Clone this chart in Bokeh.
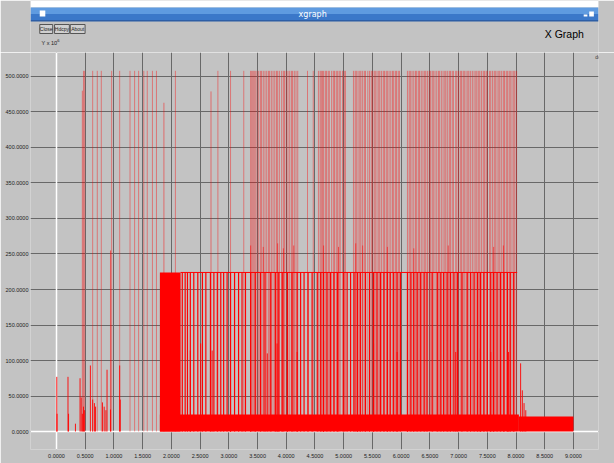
from bokeh.plotting import figure
from bokeh.models import Range1d, FixedTicker, Span, Label, PrintfTickFormatter
from bokeh.layouts import column
from bokeh.embed import file_html
from bokeh.resources import INLINE
from bokeh.core.properties import value

# ---------------- data (time in s, delay in 1e-6 s) ----------------
x_ticks = [0.0, 0.5, 1.0, 1.5, 2.0, 2.5, 3.0, 3.5, 4.0, 4.5, 5.0, 5.5, 6.0, 6.5,
           7.0, 7.5, 8.0, 8.5, 9.0]
y_ticks = [0, 50, 100, 150, 200, 250, 300, 350, 400, 450, 500]

# tall spikes (reach ~508)
tall_t = [0.47, 0.49, 0.63, 0.71, 0.78, 0.96, 1.10, 1.28, 1.36, 1.43, 1.52, 1.58,
          1.67, 1.74, 2.07, 2.81, 3.03, 3.26,
          3.38, 3.40, 3.42, 3.44, 3.46, 3.49, 3.52, 3.55, 3.57, 3.60, 3.63, 3.66,
          3.69, 3.71, 3.74, 3.77, 3.80, 3.83, 3.85, 3.88, 3.92, 3.95, 3.97, 4.00,
          4.03, 4.06, 4.09, 4.11, 4.14, 4.17, 4.20, 4.37, 4.47,
          4.56, 4.59, 4.61, 4.63, 4.65, 4.68, 4.70, 4.73, 4.75, 4.79, 4.82, 4.84,
          4.87, 4.89, 4.92, 4.94, 4.98, 5.01, 5.03,
          5.17, 5.20, 5.22, 5.25, 5.28, 5.30, 5.33, 5.36, 5.38, 5.42, 5.45, 5.48,
          5.50, 5.53, 5.55, 5.58, 5.61, 5.63, 5.66, 5.69, 5.71, 5.74, 5.76, 5.79,
          5.82, 5.85, 5.87, 5.90, 5.92, 5.95, 5.97,
          6.11, 6.14, 6.16, 6.19, 6.22, 6.25, 6.27, 6.30, 6.32, 6.35, 6.38, 6.41,
          6.43, 6.46, 6.49, 6.51, 6.54, 6.56, 6.59, 6.62, 6.65, 6.67, 6.70, 6.73,
          6.76, 6.78, 6.81, 6.84, 6.86, 6.89, 6.91, 6.95, 6.97, 7.00, 7.03, 7.05,
          7.08, 7.10, 7.13, 7.16, 7.18, 7.21, 7.24, 7.27, 7.30, 7.32, 7.35, 7.37,
          7.40, 7.43, 7.45, 7.48, 7.50, 7.54, 7.56, 7.59, 7.62, 7.64, 7.67, 7.70,
          7.72, 7.75, 7.78, 7.80, 7.83, 7.85, 7.88, 7.90, 7.93, 7.96, 7.98, 8.01]
tall_h = 508

# near-tall spikes
near_t = [0.45, 1.87, 2.69]
near_h = [480, 463, 479]

# spikes just above the plateau
high_t = [0.94, 3.38, 3.60, 3.85, 3.95, 4.13, 4.65, 4.91, 5.21, 5.33, 5.76, 6.22,
          6.82, 7.61, 7.78]
high_h = [255, 262, 260, 265, 258, 262, 262, 260, 265, 262, 260, 258, 262, 260, 262]

# spikes to the plateau level (~224)
plat_t = [2.19, 2.24, 2.28, 2.33, 2.39, 2.46, 2.54, 2.60, 2.68, 2.74, 2.80, 2.86,
          2.91, 2.97, 3.03, 3.10, 3.17, 3.23, 3.29, 3.38, 3.46, 3.55, 3.63, 3.73,
          3.81, 3.87, 3.93, 4.02, 4.10, 4.19, 4.25, 4.31, 4.38, 4.45, 4.54, 4.60,
          4.65, 4.71, 4.77, 4.83, 4.89, 5.00, 5.06, 5.12, 5.18, 5.24, 5.29, 5.38,
          5.45, 5.52, 5.58, 5.64, 5.70, 5.76, 5.81, 5.87, 5.93, 5.99, 6.11, 6.17,
          6.22, 6.28, 6.34, 6.40, 6.45, 6.54, 6.63, 6.69, 6.74, 6.80, 6.86, 6.92,
          6.98, 7.06, 7.15, 7.21, 7.27, 7.33, 7.38, 7.44, 7.50, 7.56, 7.61, 7.67,
          7.73, 7.79, 7.85, 7.90, 7.96]
plat_level = 224
plat_block = (1.80, 2.16)
plat_line = (2.16, 8.02)

# medium spikes
mid_t = [2.33, 2.51, 2.71, 3.03, 3.67, 3.84, 4.02, 4.19, 4.65, 5.24, 5.52, 5.93,
         6.11, 6.95, 7.38, 7.56, 7.87, 8.08, 8.11, 8.14, 8.17]
mid_h = [114, 124, 114, 53, 110, 124, 121, 112, 128, 142, 124, 112, 128, 112, 117,
         112, 112, 96, 58, 40, 30]

# small spikes before the congestion
small_t = [0.005, 0.01, 0.20, 0.21, 0.33, 0.41, 0.43, 0.45, 0.47, 0.49, 0.59, 0.63,
           0.66, 0.68, 0.80, 0.83, 0.86, 0.88, 0.94, 1.10, 1.11]
small_h = [77, 25, 77, 25, 11, 75, 48, 25, 35, 30, 93, 45, 40, 35, 41, 35, 30, 87,
           31, 93, 45]

# dense base band of the delay signal
band_start = [1.80, 8.05]
band_end = [8.05, 9.00]
band_top = [24, 21]

# ---------------- styling ----------------
BG = "#c3c3c3"
FONT = "Liberation Sans"
RED = "#ff0000"
W = 614
TOP_H = 52
MAIN_H = 411

# ---------------- window chrome (top strip) ----------------
top = figure(width=W, height=TOP_H, x_range=Range1d(0, W), y_range=Range1d(TOP_H, 0),
             output_backend="svg", toolbar_location=None, min_border=0,
             x_axis_type=None, y_axis_type=None)
top.grid.visible = False
top.outline_line_color = None
top.background_fill_color = BG
top.border_fill_color = BG
top.quad(left=[0, 0, 0, 0], right=[W] * 4, top=[0, 7, 13.5, 19.5],
         bottom=[7, 13.5, 19.5, 21],
         fill_color=["white", "#5f9be0", "#3b78c9", "#2d5ea5"], line_color=None)
top.quad(left=[10], right=[16], top=[10], bottom=[16], fill_color="white", line_color=None)
top.quad(left=[598, 604], right=[602, 609], top=[14, 11], bottom=[16, 16],
         fill_color="white", line_color=None)
top.text(x=[305], y=[14], text=["xgraph"], text_color="white",
         text_font=value("DejaVu Sans"), text_font_size="8px",
         text_align="center", text_baseline="middle")
btn_left = [10, 26, 43]
btn_right = [24, 42, 59]
btn_text = ["Close", "Hdcpy", "About"]
top.quad(left=btn_left, right=btn_right, top=[24] * 3, bottom=[33] * 3,
         fill_color="#d0d0d0", line_color="#555555", line_width=1)
top.text(x=[(a + b) / 2 for a, b in zip(btn_left, btn_right)], y=[28.5] * 3,
         text=btn_text, text_color="#222222", text_font=value(FONT),
         text_font_size="5px", text_align="center", text_baseline="middle")
top.text(x=[12], y=[42.5], text=["Y x 10"], text_color="#222222", text_font=value(FONT),
         text_font_size="5.5px", text_align="left", text_baseline="middle")
top.text(x=[27.5], y=[39.5], text=["-6"], text_color="#222222", text_font=value(FONT),
         text_font_size="4px", text_align="left", text_baseline="middle")
top.text(x=[577], y=[33], text=["X Graph"], text_color="black", text_font=value(FONT),
         text_font_size="10.5px", text_align="center", text_baseline="middle")

# ---------------- main plot ----------------
p = figure(width=W, height=MAIN_H, x_range=Range1d(-0.4526, 9.436),
           y_range=Range1d(-25.35, 533.8), output_backend="svg",
           toolbar_location=None, min_border_left=30, min_border_right=16,
           min_border_top=0, min_border_bottom=14)
p.background_fill_color = BG
p.border_fill_color = BG
p.outline_line_color = None

for ax, ticks in ((p.xaxis, x_ticks), (p.yaxis, y_ticks)):
    ax.ticker = FixedTicker(ticks=ticks)
    ax.formatter = PrintfTickFormatter(format="%.4f")
    ax.axis_line_color = None
    ax.major_tick_line_color = None
    ax.minor_tick_line_color = None
    ax.major_tick_out = 0
    ax.major_tick_in = 0
    ax.major_label_text_font = FONT
    ax.major_label_text_font_size = "5.5px"
    ax.major_label_text_color = "#222222"
p.xaxis.major_label_standoff = 4
p.yaxis.major_label_standoff = 2

p.grid.grid_line_color = "#686868"
p.grid.grid_line_width = 1
p.add_layout(Span(location=0, dimension="width", line_color="white",
                  line_width=1.5, level="underlay"))
p.add_layout(Span(location=0, dimension="height", line_color="white",
                  line_width=1.5, level="underlay"))

# band and plateau
p.quad(left=band_start, right=band_end, bottom=0, top=band_top,
       fill_color=RED, line_color=None)
p.quad(left=[plat_block[0]], right=[plat_block[1]], bottom=0, top=plat_level,
       fill_color=RED, line_color=None)
p.line(x=list(plat_line), y=[plat_level, plat_level], line_color=RED, line_width=1)

# spikes
p.segment(x0=tall_t, x1=tall_t, y0=0, y1=tall_h, line_color=RED, line_alpha=0.4,
          line_width=1)
p.segment(x0=near_t, x1=near_t, y0=0, y1=near_h, line_color=RED, line_alpha=0.45,
          line_width=1)
p.segment(x0=high_t, x1=high_t, y0=0, y1=high_h, line_color=RED, line_alpha=0.55,
          line_width=1)
p.segment(x0=plat_t, x1=plat_t, y0=0, y1=plat_level, line_color=RED, line_alpha=1.0,
          line_width=1.2)
p.segment(x0=mid_t, x1=mid_t, y0=0, y1=mid_h, line_color=RED, line_alpha=0.9,
          line_width=1)
p.segment(x0=small_t, x1=small_t, y0=0, y1=small_h, line_color=RED, line_alpha=0.9,
          line_width=1)

p.add_layout(Label(x=9.38, y=527, text="delay_x", text_font=FONT,
                   text_font_size="5px", text_color="#333333",
                   text_baseline="middle"))

layout = column(top, p)
open("out.html", "w").write(file_html(layout, INLINE, title="xgraph"))
